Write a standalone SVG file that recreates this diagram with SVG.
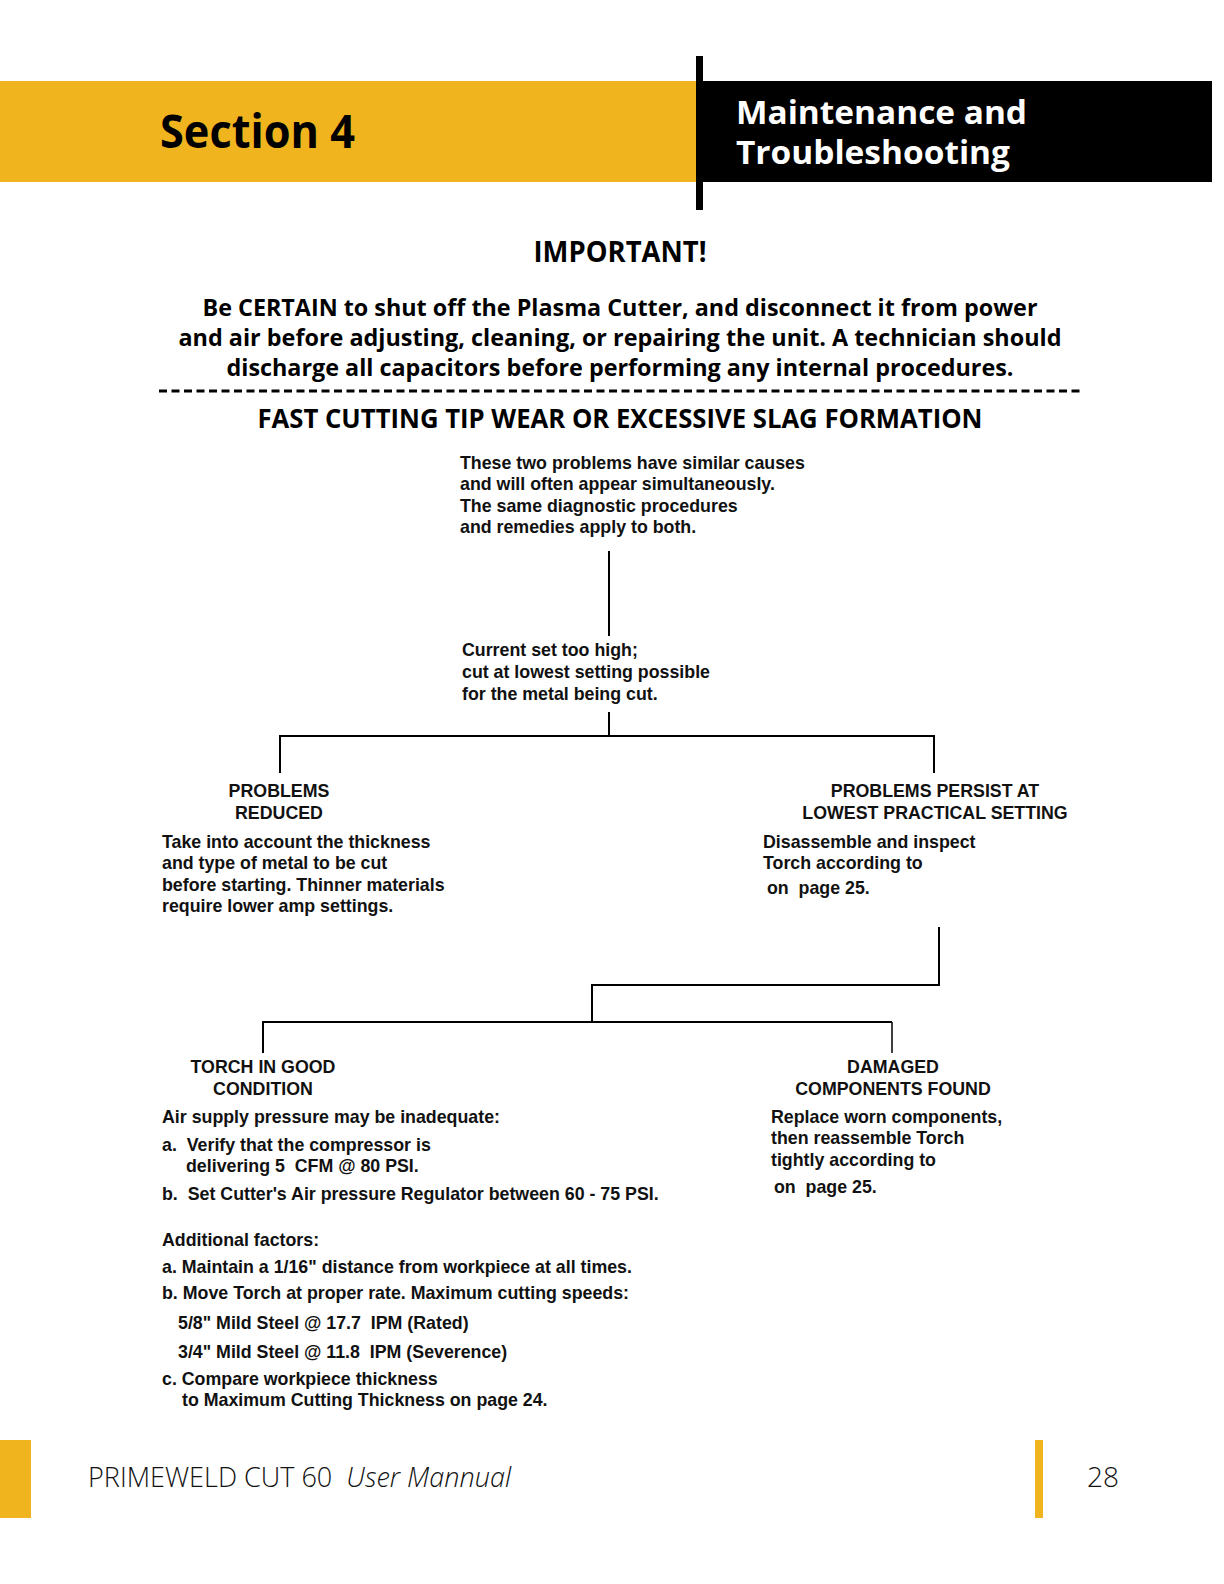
<svg xmlns="http://www.w3.org/2000/svg" width="1224" height="1584" viewBox="0 0 1224 1584">
<style>
.h{font-family:"Open Sans","Liberation Sans",sans-serif;font-weight:700;fill:#000}
.w{fill:#fff}
.b{font-family:"Liberation Sans",Arial,sans-serif;font-weight:700;font-size:17.8px;fill:#111}
.c{text-anchor:middle}
.ln{stroke:#000;stroke-width:2;fill:none}
.ft{font-family:"Open Sans","Liberation Sans",sans-serif;font-weight:300;font-size:28px;fill:#111}
</style>
<rect width="1224" height="1584" fill="#fff"/>
<g id="header">
<rect x="0" y="81" width="698" height="101" fill="#F0B41F"/>
<rect x="700" y="81" width="512" height="101" fill="#000"/>
<rect x="696" y="56" width="7" height="154" fill="#000"/>
<text class="h" x="160" y="148" font-size="46" textLength="195" lengthAdjust="spacingAndGlyphs">Section 4</text>
<text class="h w" x="736" y="124" font-size="33" textLength="291" lengthAdjust="spacingAndGlyphs">Maintenance and</text>
<text class="h w" x="736" y="164" font-size="33" textLength="274" lengthAdjust="spacingAndGlyphs">Troubleshooting</text>
</g>
<g id="warning">
<text class="h c" x="620" y="262" font-size="28" textLength="173" lengthAdjust="spacingAndGlyphs">IMPORTANT!</text>
<text class="h c" x="620" y="316" font-size="24" textLength="835" lengthAdjust="spacingAndGlyphs">Be CERTAIN to shut off the Plasma Cutter, and disconnect it from power</text>
<text class="h c" x="620" y="346" font-size="24" textLength="883" lengthAdjust="spacingAndGlyphs">and air before adjusting, cleaning, or repairing the unit. A technician should</text>
<text class="h c" x="620" y="376" font-size="24" textLength="787" lengthAdjust="spacingAndGlyphs">discharge all capacitors before performing any internal procedures.</text>
<line x1="159" y1="391" x2="1080" y2="391" stroke="#000" stroke-width="3" stroke-dasharray="8 4.5"/>
<text class="h c" x="620" y="428" font-size="27" textLength="725" lengthAdjust="spacingAndGlyphs">FAST CUTTING TIP WEAR OR EXCESSIVE SLAG FORMATION</text>
</g>
<g id="connectors">
<line class="ln" x1="609" y1="551" x2="609" y2="636"/>
<line class="ln" x1="609" y1="712" x2="609" y2="737"/>
<polyline class="ln" points="280,773 280,736 934,736 934,773"/>
<polyline class="ln" points="939,927 939,985 592,985 592,1022"/>
<polyline class="ln" points="263,1053 263,1022 892,1022"/>
<line x1="892" y1="1022" x2="892" y2="1053" stroke="#000" stroke-width="1.5"/>
</g>
<g id="intro">
<text class="b" x="460" y="469">These two problems have similar causes</text>
<text class="b" x="460" y="490">and will often appear simultaneously.</text>
<text class="b" x="460" y="512">The same diagnostic procedures</text>
<text class="b" x="460" y="533">and remedies apply to both.</text>
</g>
<g id="current">
<text class="b" x="462" y="656">Current set too high;</text>
<text class="b" x="462" y="678">cut at lowest setting possible</text>
<text class="b" x="462" y="700">for the metal being cut.</text>
</g>
<g id="reduced">
<text class="b c" x="279" y="797">PROBLEMS</text>
<text class="b c" x="279" y="819">REDUCED</text>
<text class="b" x="162" y="848">Take into account the thickness</text>
<text class="b" x="162" y="869">and type of metal to be cut</text>
<text class="b" x="162" y="891">before starting. Thinner materials</text>
<text class="b" x="162" y="912">require lower amp settings.</text>
</g>
<g id="persist">
<text class="b c" x="935" y="797">PROBLEMS PERSIST AT</text>
<text class="b c" x="935" y="819">LOWEST PRACTICAL SETTING</text>
<text class="b" x="763" y="848">Disassemble and inspect</text>
<text class="b" x="763" y="869">Torch according to</text>
<text class="b" x="767" y="894" xml:space="preserve">on  page 25.</text>
</g>
<g id="good">
<text class="b c" x="263" y="1073">TORCH IN GOOD</text>
<text class="b c" x="263" y="1095">CONDITION</text>
<text class="b" x="162" y="1123">Air supply pressure may be inadequate:</text>
<text class="b" x="162" y="1151" xml:space="preserve">a.  Verify that the compressor is</text>
<text class="b" x="186" y="1172" xml:space="preserve">delivering 5  CFM @ 80 PSI.</text>
<text class="b" x="162" y="1200" xml:space="preserve">b.  Set Cutter's Air pressure Regulator between 60 - 75 PSI.</text>
<text class="b" x="162" y="1246">Additional factors:</text>
<text class="b" x="162" y="1273">a. Maintain a 1/16" distance from workpiece at all times.</text>
<text class="b" x="162" y="1299">b. Move Torch at proper rate. Maximum cutting speeds:</text>
<text class="b" x="178" y="1329" xml:space="preserve">5/8" Mild Steel @ 17.7  IPM (Rated)</text>
<text class="b" x="178" y="1358" xml:space="preserve">3/4" Mild Steel @ 11.8  IPM (Severence)</text>
<text class="b" x="162" y="1385">c. Compare workpiece thickness</text>
<text class="b" x="182" y="1406">to Maximum Cutting Thickness on page 24.</text>
</g>
<g id="damaged">
<text class="b c" x="893" y="1073">DAMAGED</text>
<text class="b c" x="893" y="1095">COMPONENTS FOUND</text>
<text class="b" x="771" y="1123">Replace worn components,</text>
<text class="b" x="771" y="1144">then reassemble Torch</text>
<text class="b" x="771" y="1166">tightly according to</text>
<text class="b" x="774" y="1193" xml:space="preserve">on  page 25.</text>
</g>
<g id="footer">
<rect x="0" y="1440" width="31" height="78" fill="#F0B41F"/>
<rect x="1035" y="1440" width="8" height="78" fill="#F0B41F"/>
<text class="ft" x="88" y="1487" xml:space="preserve" textLength="423" lengthAdjust="spacingAndGlyphs">PRIMEWELD CUT 60  <tspan font-style="italic">User Mannual</tspan></text>
<text class="ft" x="1087" y="1487">28</text>
</g>
</svg>
